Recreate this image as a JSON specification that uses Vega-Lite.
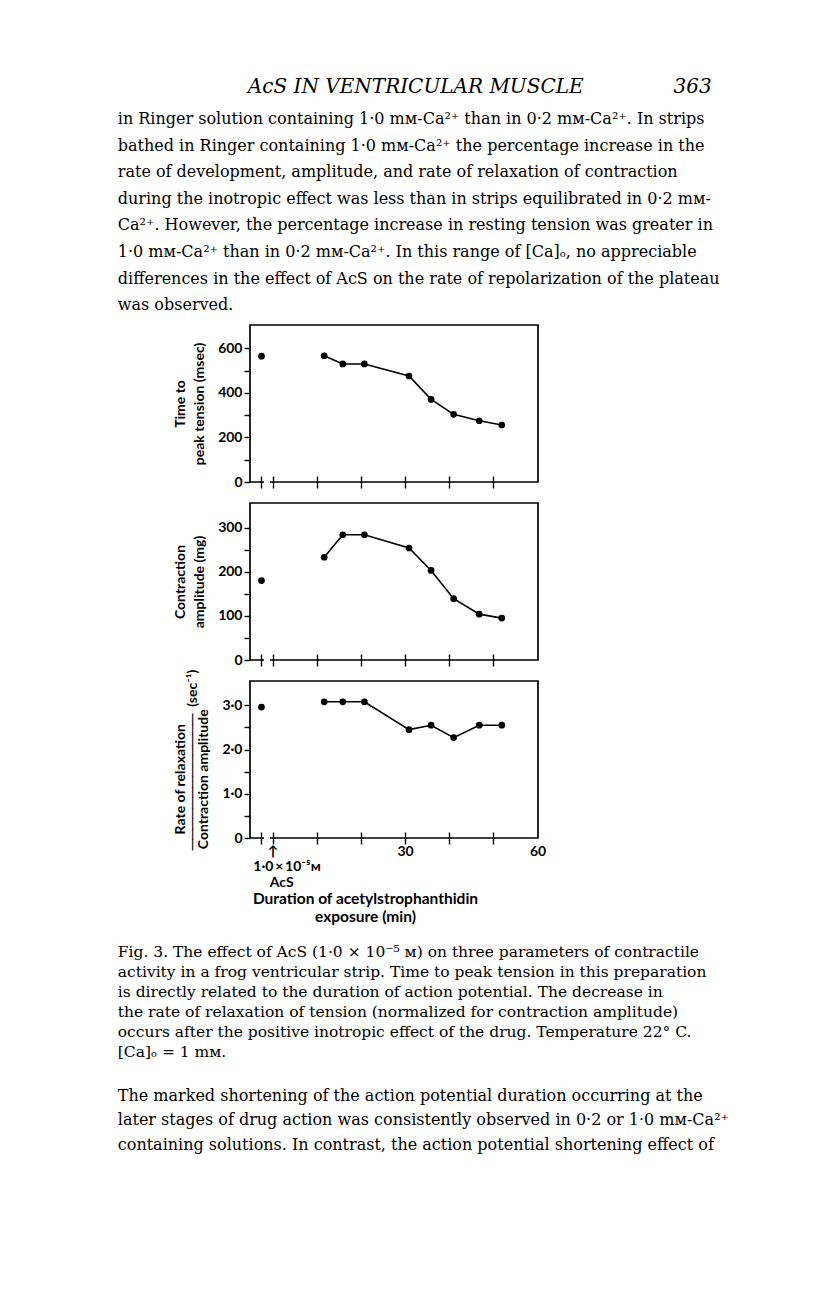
{
  "$schema": "https://vega.github.io/schema/vega-lite/v6.json",
  "padding": {"left": 117, "top": 76, "right": 5, "bottom": 5},
  "background": "white",
  "datasets": {
    "acs": [
      {"t": -2.5, "ttp": 565, "amp": 180, "rr": 2.96},
      {"t": 11.7, "ttp": 567, "amp": 233, "rr": 3.08},
      {"t": 15.9, "ttp": 530, "amp": 284, "rr": 3.08},
      {"t": 20.8, "ttp": 530, "amp": 284, "rr": 3.08},
      {"t": 30.9, "ttp": 476, "amp": 254, "rr": 2.45},
      {"t": 35.9, "ttp": 371, "amp": 203, "rr": 2.55},
      {"t": 41.0, "ttp": 304, "amp": 139, "rr": 2.27},
      {"t": 46.8, "ttp": 275, "amp": 104, "rr": 2.55},
      {"t": 51.9, "ttp": 256, "amp": 95, "rr": 2.55}
    ]
  },
  "config": {
    "view": {"stroke": "black", "strokeWidth": 1.7},
    "axis": {
      "labelFont": "Lato", "labelFontWeight": "bold", "labelFontSize": 14, "labelColor": "black",
      "titleFont": "Lato", "titleFontWeight": "bold", "titleFontSize": 14, "titleColor": "black",
      "tickColor": "black", "tickWidth": 1.4, "domainColor": "black", "grid": false
    }
  },
  "title": {
    "text": "\u200B\u2003\u2003\u2003\u2003\u2003\u2003\u2002AcS IN VENTRICULAR MUSCLE\u2003\u2003\u2003\u2003\u2002363",
    "subtitle": [
      "in Ringer solution containing 1·0 mᴍ-Ca²⁺ than in 0·2 mᴍ-Ca²⁺. In strips",
      "bathed in Ringer containing 1·0 mᴍ-Ca²⁺ the percentage increase in the",
      "rate of development, amplitude, and rate of relaxation of contraction",
      "during the inotropic effect was less than in strips equilibrated in 0·2 mᴍ-",
      "Ca²⁺. However, the percentage increase in resting tension was greater in",
      "1·0 mᴍ-Ca²⁺ than in 0·2 mᴍ-Ca²⁺. In this range of [Ca]ₒ, no appreciable",
      "differences in the effect of AcS on the rate of repolarization of the plateau",
      "was observed."
    ],
    "anchor": "start", "frame": "bounds", "offset": 11,
    "font": "DejaVu Serif", "fontSize": 20, "fontStyle": "italic", "fontWeight": "normal", "color": "black", "lineHeight": 22,
    "subtitleFont": "DejaVu Serif", "subtitleFontSize": 16, "subtitleColor": "black", "subtitleLineHeight": 26.6, "subtitlePadding": 14
  },
  "vconcat": [
    {
      "title": {
        "text": [
          "Fig. 3. The effect of AcS (1·0 × 10⁻⁵ ᴍ) on three parameters of contractile",
          "activity in a frog ventricular strip. Time to peak tension in this preparation",
          "is directly related to the duration of action potential. The decrease in",
          "the rate of relaxation of tension (normalized for contraction amplitude)",
          "occurs after the positive inotropic effect of the drug. Temperature 22° C.",
          "[Ca]ₒ = 1 mᴍ."
        ],
        "subtitle": [
          "The marked shortening of the action potential duration occurring at the",
          "later stages of drug action was consistently observed in 0·2 or 1·0 mᴍ-Ca²⁺",
          "containing solutions. In contrast, the action potential shortening effect of"
        ],
        "orient": "bottom", "anchor": "start", "frame": "bounds", "offset": 20, "dx": -55,
        "font": "DejaVu Serif", "fontSize": 15.5, "fontWeight": "normal", "color": "black", "lineHeight": 20,
        "subtitleFont": "DejaVu Serif", "subtitleFontSize": 16, "subtitleColor": "black", "subtitleLineHeight": 24.5, "subtitlePadding": 27
      },
      "bounds": "flush",
      "spacing": 21,
      "vconcat": [
        {
          "width": 288, "height": 157,
          "data": {"name": "acs"},
          "encoding": {
            "x": {"field": "t", "type": "quantitative", "scale": {"domain": [-5.1, 60.1], "nice": false, "zero": false},
              "axis": {"values": [-2.5, 0, 10, 20, 30, 40, 50, 60], "labels": false, "title": null, "domain": false, "offset": -6, "tickSize": 12,
                "tickColor": {"condition": {"test": "datum.value == 60", "value": "transparent"}, "value": "black"}}},
            "y": {"field": "ttp", "type": "quantitative", "scale": {"domain": [0, 705], "nice": false},
              "axis": {"values": [0, 100, 200, 300, 400, 500, 600], "labelExpr": "datum.value % 200 == 0 ? datum.label : ''", "domain": false, "tickSize": 6, "labelPadding": 2,
                "title": ["Time to", "peak tension (msec)"], "titleLineHeight": 19, "titlePadding": 11}}
          },
          "layer": [
            {"transform": [{"filter": "datum.t > 0"}], "mark": {"type": "line", "color": "black", "strokeWidth": 1.6}},
            {"mark": {"type": "point", "filled": true, "color": "black", "size": 45, "opacity": 1}},
            {"mark": {"type": "rule", "color": "white", "strokeWidth": 4}, "encoding": {"x": {"datum": -1.9}, "x2": {"datum": -0.6}, "y": {"datum": 0}}}
          ]
        },
        {
          "width": 288, "height": 157,
          "data": {"name": "acs"},
          "encoding": {
            "x": {"field": "t", "type": "quantitative", "scale": {"domain": [-5.1, 60.1], "nice": false, "zero": false},
              "axis": {"values": [-2.5, 0, 10, 20, 30, 40, 50, 60], "labels": false, "title": null, "domain": false, "offset": -6, "tickSize": 12,
                "tickColor": {"condition": {"test": "datum.value == 60", "value": "transparent"}, "value": "black"}}},
            "y": {"field": "amp", "type": "quantitative", "scale": {"domain": [0, 356], "nice": false},
              "axis": {"values": [0, 50, 100, 150, 200, 250, 300], "labelExpr": "datum.value % 100 == 0 ? datum.label : ''", "domain": false, "tickSize": 6, "labelPadding": 2,
                "title": ["Contraction", "amplitude (mg)"], "titleLineHeight": 19, "titlePadding": 11}}
          },
          "layer": [
            {"transform": [{"filter": "datum.t > 0"}], "mark": {"type": "line", "color": "black", "strokeWidth": 1.6}},
            {"mark": {"type": "point", "filled": true, "color": "black", "size": 45, "opacity": 1}},
            {"mark": {"type": "rule", "color": "white", "strokeWidth": 4}, "encoding": {"x": {"datum": -1.9}, "x2": {"datum": -0.6}, "y": {"datum": 0}}}
          ]
        },
        {
          "width": 288, "height": 157,
          "data": {"name": "acs"},
          "encoding": {
            "x": {"field": "t", "type": "quantitative", "scale": {"domain": [-5.1, 60.1], "nice": false, "zero": false},
              "axis": {"values": [-2.5, 0, 10, 20, 30, 40, 50, 60], "domain": false, "offset": -6, "tickSize": 12,
                "tickColor": {"condition": {"test": "datum.value == 60", "value": "transparent"}, "value": "black"},
                "labelFlush": false, "labelOverlap": false, "labelBound": false, "labelPadding": 0, "labelLineHeight": 15.5,
                "labelExpr": "datum.value == 0 ? ['↑', '\u200B\u2003\u2003\u20021·0\u2009×\u200910⁻⁵ᴍ', '\u200B\u2003\u2002AcS'] : ((datum.value == 30 || datum.value == 60) ? datum.label : '')",
                "title": ["Duration of acetylstrophanthidin", "exposure (min)"], "titleFontSize": 15.5, "titleLineHeight": 18, "titlePadding": 2, "titleX": 115}},
            "y": {"field": "rr", "type": "quantitative", "scale": {"domain": [0, 3.55], "nice": false},
              "axis": {"values": [0, 0.5, 1, 1.5, 2, 2.5, 3], "labelExpr": "datum.value == 0 ? '0' : (datum.value % 1 == 0 ? replace(format(datum.value, '.1f'), '.', '·') : '')", "domain": false, "tickSize": 6, "labelPadding": 2,
                "title": ["Rate of relaxation\u2003\u2003\u2003\u2002\u200B", "─────────────\u2002(sec⁻¹)", "Contraction amplitude\u2003\u2003\u2003\u2002\u200B"], "titleLineHeight": 11.5, "titlePadding": 11}}
          },
          "layer": [
            {"transform": [{"filter": "datum.t > 0"}], "mark": {"type": "line", "color": "black", "strokeWidth": 1.6}},
            {"mark": {"type": "point", "filled": true, "color": "black", "size": 45, "opacity": 1}},
            {"mark": {"type": "rule", "color": "white", "strokeWidth": 4}, "encoding": {"x": {"datum": -1.9}, "x2": {"datum": -0.6}, "y": {"datum": 0}}}
          ]
        }
      ]
    }
  ]
}
